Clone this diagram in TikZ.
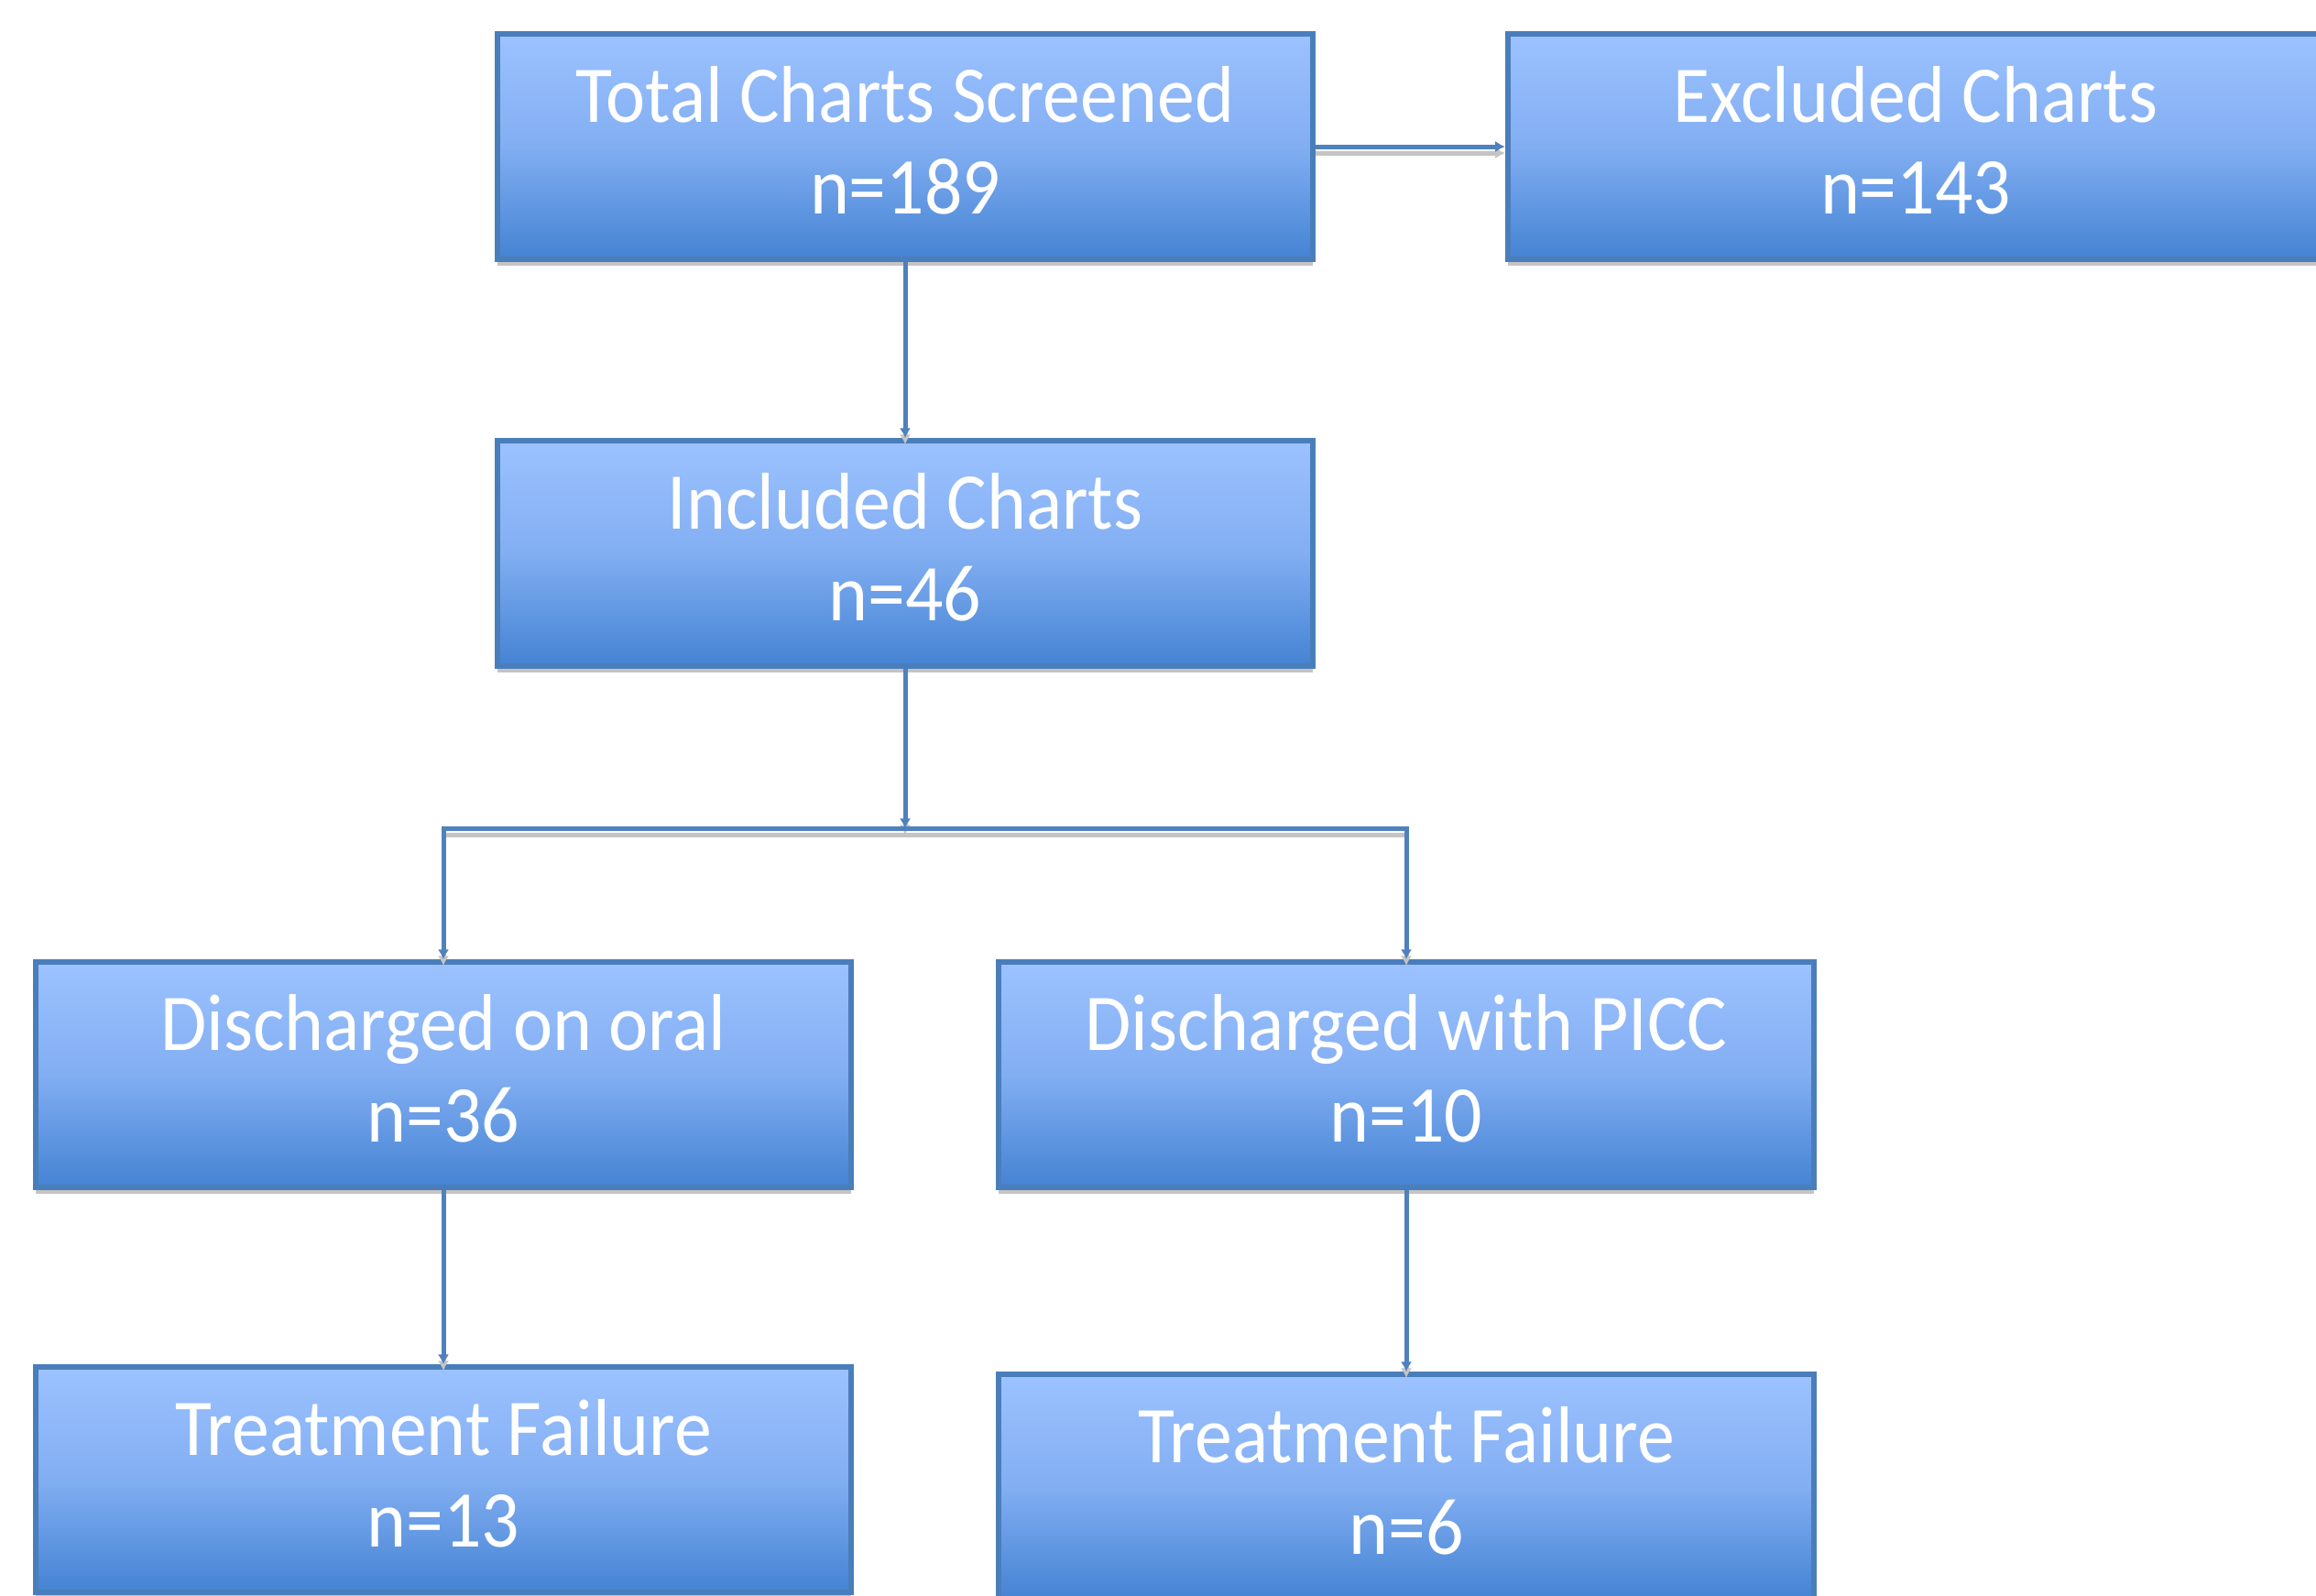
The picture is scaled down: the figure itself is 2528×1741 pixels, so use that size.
\documentclass[tikz,border=0pt]{standalone}
\usepackage{fontspec}
\setmainfont[FakeStretch=0.93]{Carlito}
\usetikzlibrary{arrows.meta,shadows}
\definecolor{bordc}{RGB}{74,126,187}
\definecolor{topc}{RGB}{156,194,255}
\definecolor{midc}{RGB}{130,174,242}
\definecolor{botc}{RGB}{68,131,211}
\definecolor{linec}{RGB}{79,129,189}
\definecolor{shadc}{RGB}{196,196,196}
\tikzset{
  flowbox/.style={rectangle, draw=bordc, line width=0.06cm,
    top color=topc, bottom color=botc, middle color=midc,
    minimum width=8.9cm, minimum height=2.46cm, inner sep=0pt,
    align=center, text=white, font=\fontsize{25}{28.45}\selectfont,
    text depth=0.14cm,
    drop shadow={shadow xshift=0cm, shadow yshift=-0.07cm, fill=shadc, opacity=1}},
  conn/.style={draw=linec, line width=0.05cm, -{Latex[length=3pt,width=3.5pt]},
    preaction={draw=shadc, line width=0.05cm, transform canvas={yshift=-0.07cm}}}
}
\begin{document}
\begin{tikzpicture}[x=0.01cm,y=-0.01cm]
\useasboundingbox (0,0) rectangle (2528,1741);
\clip (0,0) rectangle (2528,1741);
\fill[white] (0,0) rectangle (2528,1741);
\node[flowbox] (tot) at (988,160) {Total Charts Screened\\n=189};
\node[flowbox] (exc) at (2091,160) {Excluded Charts\\n=143};
\node[flowbox] (inc) at (988,604) {Included Charts\\n=46};
\node[flowbox] (oral) at (484,1173) {Discharged on oral\\n=36};
\node[flowbox] (picc) at (1535,1173) {Discharged with PICC\\n=10};
\node[flowbox] (tf1) at (484,1615) {Treatment Failure\\n=13};
\node[flowbox] (tf2) at (1535,1623) {Treatment Failure\\n=6};
\coordinate (j) at (988,904);
\draw[conn] (tot.east) -- (exc.west);
\draw[conn] (tot.south) -- (inc.north);
\draw[conn] (inc.south) -- (j);
\draw[conn] (j) -| (oral.north);
\draw[conn] (j) -| (picc.north);
\draw[conn] (oral.south) -- (tf1.north);
\draw[conn] (picc.south) -- (tf2.north);
\end{tikzpicture}
\end{document}
